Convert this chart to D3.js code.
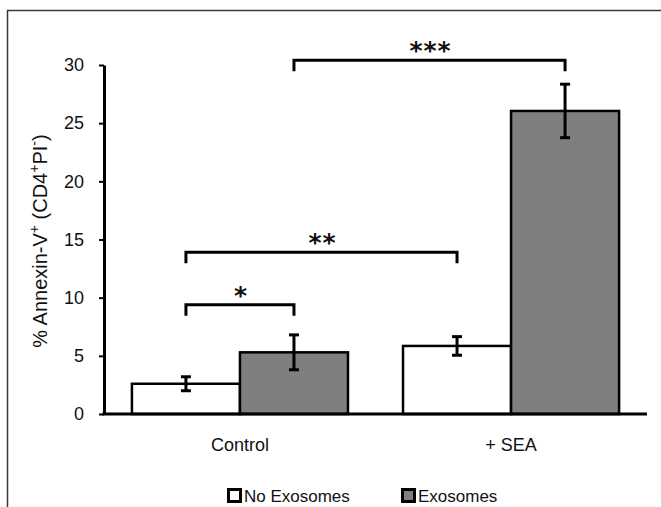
<!DOCTYPE html>
<html>
<head>
<meta charset="utf-8">
<script src="https://cdn.jsdelivr.net/npm/d3@7"></script>
<style>
  body { margin: 0; background: #fff; }
  svg { font-family: 'Liberation Sans', Arial, sans-serif; }
</style>
</head>
<body>
<div id="chart"></div>
<script>
// Annexin-V bar chart

const groups = ['Control', '+ SEA']
const seriesNames = ['No Exosomes', 'Exosomes']
const seriesColors = ['#ffffff', '#7f7f7f']
const noExoValues = [2.6, 5.85]
const noExoErrors = [0.6, 0.8]
const exoValues = [5.3, 26.05]
const exoErrors = [1.5, 2.3]
const yTicks = [0, 5, 10, 15, 20, 25, 30]

// significance brackets: [from group, from series, to group, to series, level, label]
const brackets = [
    [0, 1, 1, 1, 30.4, '***'],
    [0, 0, 1, 0, 13.9, '**'],
    [0, 0, 0, 1, 9.4, '*']
]

const width = 661
const height = 507
const margin = { top: 65, right: 14, bottom: 93, left: 104 }

const svg = d3.select('#chart')
    .append('svg')
    .attr('width', width)
    .attr('height', height)

// outer frame (top and left only are visible)
svg.append('path')
    .attr('d', `M7.5,${height} V10.5 H${width}`)
    .attr('fill', 'none')
    .attr('stroke', '#3a3a3a')
    .attr('stroke-width', 1.5)

const x0 = d3.scaleBand()
    .domain(groups)
    .range([margin.left, width - margin.right])
    .paddingInner(0.203)
    .paddingOuter(0.103)

const x1 = d3.scaleBand()
    .domain(seriesNames)
    .range([0, x0.bandwidth()])

const y = d3.scaleLinear()
    .domain([0, 30])
    .range([height - margin.bottom, margin.top])

const rows = []
groups.forEach((g, i) => {
    rows.push({ group: g, series: seriesNames[0], value: noExoValues[i], err: noExoErrors[i], color: seriesColors[0] })
    rows.push({ group: g, series: seriesNames[1], value: exoValues[i], err: exoErrors[i], color: seriesColors[1] })
})

const barsG = svg.append('g')

barsG.selectAll('.bar')
    .data(rows)
    .join('rect')
    .classed('bar', true)
    .attr('x', d => x0(d.group) + x1(d.series))
    .attr('y', d => y(d.value))
    .attr('width', x1.bandwidth())
    .attr('height', d => y(0) - y(d.value))
    .attr('fill', d => d.color)
    .attr('stroke', '#000')
    .attr('stroke-width', 2.5)

// error bars
const errG = svg.append('g')
    .attr('stroke', '#000')
    .attr('stroke-width', 3)

const cx = d => x0(d.group) + x1(d.series) + x1.bandwidth() / 2

errG.selectAll('.err-line')
    .data(rows)
    .join('line')
    .attr('x1', cx).attr('x2', cx)
    .attr('y1', d => y(d.value + d.err))
    .attr('y2', d => y(d.value - d.err))

errG.selectAll('.err-top')
    .data(rows)
    .join('line')
    .attr('x1', d => cx(d) - 5).attr('x2', d => cx(d) + 5)
    .attr('y1', d => y(d.value + d.err))
    .attr('y2', d => y(d.value + d.err))

errG.selectAll('.err-bot')
    .data(rows)
    .join('line')
    .attr('x1', d => cx(d) - 5).attr('x2', d => cx(d) + 5)
    .attr('y1', d => y(d.value - d.err))
    .attr('y2', d => y(d.value - d.err))

// axes
const yAxis = svg.append('g')
    .attr('transform', `translate(${margin.left},0)`)
    .call(d3.axisLeft(y).tickValues(yTicks).tickSize(5).tickSizeOuter(0).tickPadding(15))

yAxis.select('.domain').attr('stroke-width', 3)
yAxis.selectAll('.tick line').attr('stroke-width', 2)
yAxis.selectAll('.tick text')
    .attr('font-size', '18px')
    .attr('fill', '#111')
    .attr('font-family', "'Liberation Sans', Arial, sans-serif")

svg.append('line')
    .attr('x1', margin.left - 1.5)
    .attr('x2', width - margin.right)
    .attr('y1', y(0))
    .attr('y2', y(0))
    .attr('stroke', '#000')
    .attr('stroke-width', 3)

svg.selectAll('.cat-label')
    .data(groups)
    .join('text')
    .classed('cat-label', true)
    .attr('x', d => x0(d) + x0.bandwidth() / 2)
    .attr('y', 451)
    .attr('text-anchor', 'middle')
    .attr('font-size', '18px')
    .attr('fill', '#111')
    .text(d => d)

// y label
const yLabel = svg.append('text')
    .attr('transform', `translate(47,${241}) rotate(-90)`)
    .attr('text-anchor', 'middle')
    .attr('font-size', '20px')
    .attr('fill', '#111')

yLabel.append('tspan').text('% Annexin-V')
yLabel.append('tspan').attr('dy', -8).attr('font-size', '14px').text('+')
yLabel.append('tspan').attr('dy', 8).text(' (CD4')
yLabel.append('tspan').attr('dy', -8).attr('font-size', '14px').text('+')
yLabel.append('tspan').attr('dy', 8).text('PI')
yLabel.append('tspan').attr('dy', -8).attr('font-size', '14px').text('-')
yLabel.append('tspan').attr('dy', 8).text(')')

// significance brackets
const bx = (g, s) => x0(groups[g]) + x1(seriesNames[s]) + x1.bandwidth() / 2
const bracketG = svg.append('g')

bracketG.selectAll('.bracket')
    .data(brackets)
    .join('path')
    .classed('bracket', true)
    .attr('d', d => {
        let xa = bx(d[0], d[1]), xb = bx(d[2], d[3]), yy = y(d[4])
        return `M${xa},${yy + 11} V${yy} H${xb} V${yy + 11}`
    })
    .attr('fill', 'none')
    .attr('stroke', '#000')
    .attr('stroke-width', 3)

bracketG.selectAll('.stars')
    .data(brackets)
    .join('text')
    .classed('stars', true)
    .attr('x', d => (bx(d[0], d[1]) + bx(d[2], d[3])) / 2 + 1)
    .attr('y', d => y(d[4]) - 1)
    .attr('text-anchor', 'middle')
    .attr('font-family', "'DejaVu Sans', sans-serif")
    .attr('font-weight', 'bold')
    .attr('font-size', '25px')
    .attr('letter-spacing', '1px')
    .attr('fill', '#111')
    .text(d => d[5])

// legend
const legendX = [227, 401]
const legendG = svg.append('g')

legendG.selectAll('.leg-box')
    .data(seriesNames)
    .join('rect')
    .classed('leg-box', true)
    .attr('x', (d, i) => legendX[i] + 1.5)
    .attr('y', 489.5)
    .attr('width', 12)
    .attr('height', 12)
    .attr('fill', (d, i) => seriesColors[i])
    .attr('stroke', '#000')
    .attr('stroke-width', 3)

legendG.selectAll('.leg-text')
    .data(seriesNames)
    .join('text')
    .classed('leg-text', true)
    .attr('x', (d, i) => legendX[i] + 17)
    .attr('y', 502)
    .attr('font-size', '17px')
    .attr('fill', '#111')
    .text(d => d)
</script>
</body>
</html>
